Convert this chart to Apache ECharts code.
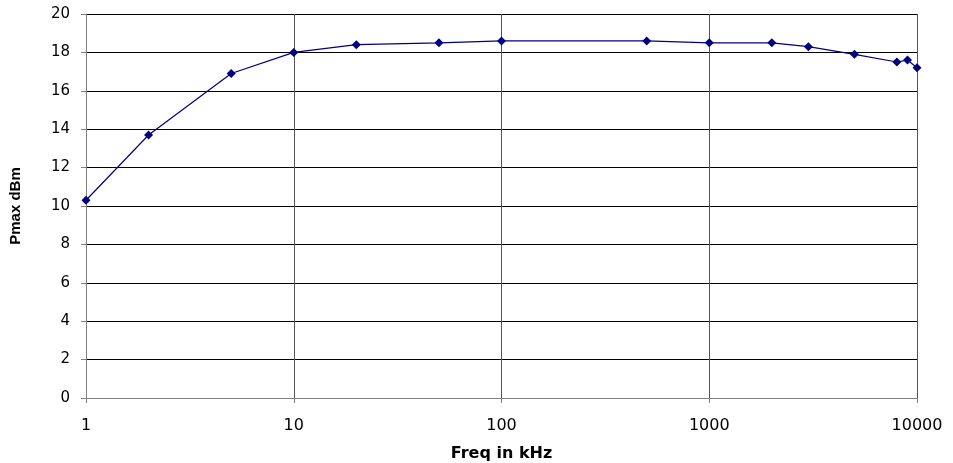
<!DOCTYPE html>
<html>
<head>
<meta charset="utf-8">
<script src="https://cdn.jsdelivr.net/npm/echarts@6/dist/echarts.min.js"></script>
<style>
  html, body { margin: 0; padding: 0; background: #fff; }
  #chart { width: 953px; height: 463px; }
</style>
</head>
<body>
<div id="chart"></div>
<script>
// frequency in kHz and measured Pmax in dBm
const freqKHz = [1, 2, 5, 10, 20, 50, 100, 500, 1000, 2000, 3000, 5000, 8000, 9000, 10000];
const pmaxDbm = [10.3, 13.7, 16.9, 18.0, 18.4, 18.5, 18.6, 18.6, 18.5, 18.5, 18.3, 17.9, 17.5, 17.6, 17.2];

const chart = echarts.init(document.getElementById('chart'));
const wideFont = '"DejaVu Sans", sans-serif';
const narrowFont = '"Liberation Sans", Arial, sans-serif';

chart.setOption({
  animation: false,
  grid: { left: 86, right: 36, top: 14, bottom: 65, containLabel: false, outerBoundsMode: 'none' },
  xAxis: {
    type: 'log',
    logBase: 10,
    min: 1,
    max: 10000,
    name: 'Freq in kHz',
    nameLocation: 'middle',
    nameGap: 48,
    nameTextStyle: { fontFamily: wideFont, fontSize: 16, fontWeight: 'bold', color: '#000' },
    axisLine: { lineStyle: { color: '#808080', width: 1 } },
    axisTick: { show: true, length: 5, inside: false, lineStyle: { color: '#808080' } },
    minorTick: { show: false },
    axisLabel: { fontFamily: wideFont, fontSize: 16, color: '#000', margin: 20, formatter: v => String(Math.round(v)) },
    splitLine: { show: true, lineStyle: { color: '#555', width: 1 } }
  },
  yAxis: {
    type: 'value',
    min: 0,
    max: 20,
    interval: 2,
    name: 'Pmax dBm',
    nameLocation: 'middle',
    nameGap: 63,
    nameTextStyle: { fontFamily: narrowFont, fontSize: 15, fontWeight: 'bold', color: '#000' },
    axisLine: { show: true, lineStyle: { color: '#808080', width: 1 } },
    axisTick: { show: true, length: 5, lineStyle: { color: '#808080' } },
    axisLabel: { fontFamily: wideFont, fontSize: 15, color: '#000', margin: 16 },
    splitLine: { show: true, lineStyle: { color: '#000', width: 1 } }
  },
  series: [{
    type: 'line',
    data: freqKHz.map((f, i) => [f, pmaxDbm[i]]),
    symbol: 'diamond',
    symbolSize: 9,
    showAllSymbol: true,
    lineStyle: { color: '#000080', width: 1.2 },
    itemStyle: { color: '#000080' }
  }]
});
</script>
</body>
</html>
